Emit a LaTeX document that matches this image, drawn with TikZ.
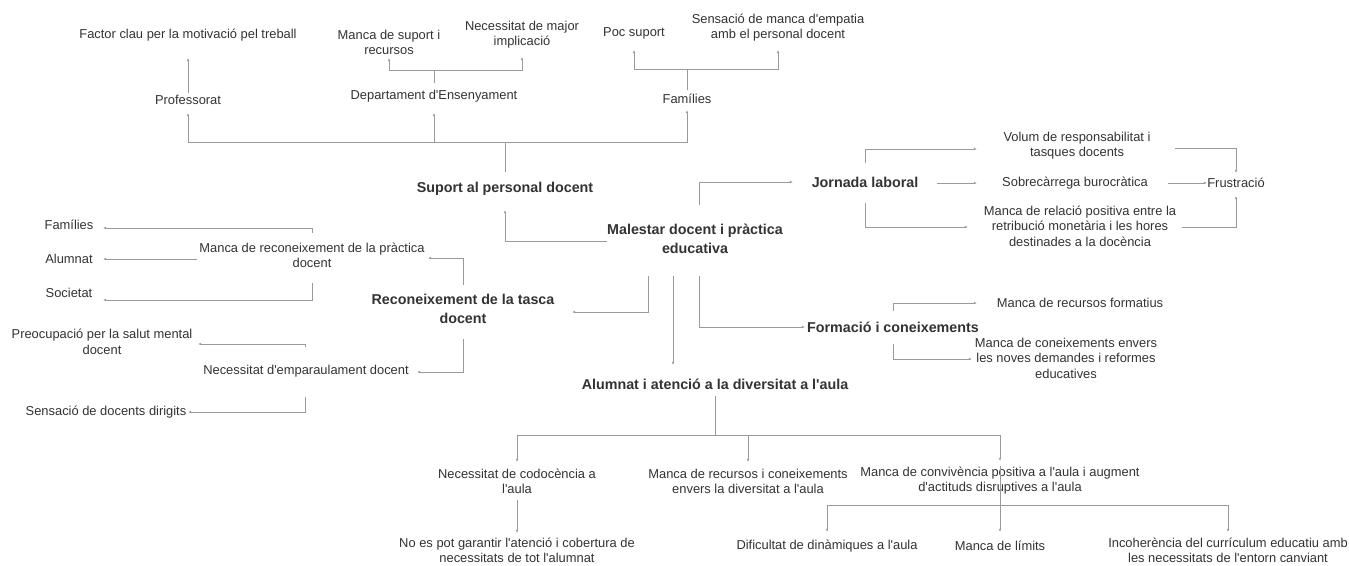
\documentclass[tikz,border=0pt]{standalone}
\usepackage{fontspec}
\setmainfont{Liberation Sans}[Ligatures=TeXOff]
\usetikzlibrary{arrows.meta}
\definecolor{txt}{HTML}{333333}
\definecolor{lnc}{HTML}{9A9A9A}
\begin{document}
\begin{tikzpicture}[x=1pt,y=-1pt,
  lbl/.style={text=txt,font=\fontsize{12.9}{15.5}\selectfont,align=center,inner sep=0pt},
  hd/.style={text=txt,font=\bfseries\fontsize{14.3}{19}\selectfont,align=center,inner sep=0pt},
  conn/.style={draw=lnc,line width=0.7pt},
  arr/.style={conn,-{Latex[length=3.2pt,width=2.6pt]}}]
\fill[white] (0,0) rectangle (1349,565);
\useasboundingbox (0,0) rectangle (1349,565);
% ---------- top ----------
\node[lbl] (factor) at (188,35) {Factor clau per la motivació pel treball};
\node[lbl] (prof) at (188,100) {Professorat};
\node[lbl] (mancasup) at (389,42.5) {Manca de suport i\\recursos};
\node[lbl] (nmaj) at (522,34.5) {Necessitat de major\\implicació};
\node[lbl] (dep) at (434,96) {Departament d'Ensenyament};
\node[lbl] (poc) at (634,33) {Poc suport};
\node[lbl] (sens) at (778,27.5) {Sensació de manca d'empatia\\amb el personal docent};
\node[lbl] (fam1) at (687,99) {Famílies};
\node[hd] (suport) at (505,189) {Suport al personal docent};
\node[hd] (main) at (695,238.5) {Malestar docent i pràctica\\educativa};
% ---------- right ----------
\node[hd] (jorn) at (865,182) {Jornada laboral};
\node[lbl] (volum) at (1077,145.5) {Volum de responsabilitat i\\tasques docents};
\node[lbl] (sobre) at (1075,183) {Sobrecàrrega burocràtica};
\node[lbl] (relacio) at (1080,226) {Manca de relació positiva entre la\\retribució monetària i les hores\\destinades a la docència};
\node[lbl] (frus) at (1236,183) {Frustració};
\node[hd] (formacio) at (893,327) {Formació i coneixements};
\node[lbl] (mrf) at (1080,303) {Manca de recursos formatius};
\node[lbl] (mce) at (1066,358) {Manca de coneixements envers\\les noves demandes i reformes\\educatives};
% ---------- left ----------
\node[lbl] (famL) at (69,225) {Famílies};
\node[lbl] (alum) at (69,259) {Alumnat};
\node[lbl] (soc) at (69,293) {Societat};
\node[lbl] (mrec) at (312,255.5) {Manca de reconeixement de la pràctica\\docent};
\node[hd] (recon) at (463,308.5) {Reconeixement de la tasca\\docent};
\node[lbl] (preo) at (102,342) {Preocupació per la salut mental\\docent};
\node[lbl] (nemp) at (306,371) {Necessitat d'emparaulament docent};
\node[lbl] (sdir) at (106,412) {Sensació de docents dirigits};
% ---------- bottom ----------
\node[hd] (alat) at (715,384) {Alumnat i atenció a la diversitat a l'aula};
\node[lbl] (codo) at (517,481.5) {Necessitat de codocència a\\l'aula};
\node[lbl] (mrc) at (748,481.5) {Manca de recursos i coneixements\\envers la diversitat a l'aula};
\node[lbl] (conv) at (1000,480.5) {Manca de convivència positiva a l'aula i augment\\d'actituds disruptives a l'aula};
\node[lbl,font=\fontsize{12.9}{15}\selectfont] (nogar) at (517,550) {No es pot garantir l'atenció i cobertura de\\necessitats de tot l'alumnat};
\node[lbl] (dif) at (827,546) {Dificultat de dinàmiques a l'aula};
\node[lbl] (lim) at (1000,546) {Manca de límits};
\node[lbl,font=\fontsize{12.9}{15}\selectfont] (inco) at (1228,550) {Incoherència del currículum educatiu amb\\les necessitats de l'entorn canviant};
% ---------- junctions ----------
\coordinate (tbus) at (505,142);
\coordinate (dbr) at (434,70);
\coordinate (fbr) at (687,69);
\coordinate (abus) at (715,435);
\coordinate (cbus) at (1000,505);
% ---------- connectors: top ----------
\draw[arr] (prof |- 0,93) -- (factor |- 0,58);
\draw[conn] (suport |- 0,172) -- (tbus);
\draw[arr] (tbus) -| (prof |- 0,113);
\draw[arr] (tbus) -| (dep |- 0,113);
\draw[arr] (tbus) -| (fam1 |- 0,110);
\draw[conn] (dep |- 0,83) -- (dbr);
\draw[arr] (dbr) -| (mancasup |- 0,58);
\draw[arr] (dbr) -| (nmaj |- 0,57);
\draw[conn] (fam1 |- 0,90) -- (fbr);
\draw[arr] (fbr) -| (poc |- 0,50);
\draw[arr] (fbr) -| (sens |- 0,50);
% ---------- main ----------
\draw[arr] (main.west |- 0,241) -| (suport |- 0,210);
\draw[arr] (699,205) |- (793,182);
\draw[arr] (648,276) |- (572,312);
\draw[arr] (673,276) -- (673,365);
\draw[arr] (699,276) |- (805,327);
% ---------- jornada ----------
\draw[arr] (jorn |- 0,163) |- (977,149);
\draw[arr] (937,183) -- (977,183);
\draw[arr] (jorn |- 0,203) |- (968,227);
\draw[arr] (1175,148) -| (frus |- 0,173);
\draw[arr] (1168,183) -- (1207,183);
\draw[arr] (1182,227) -| (frus |- 0,196);
% ---------- formacio ----------
\draw[arr] (formacio |- 0,311) |- (977,303);
\draw[arr] (formacio |- 0,344) |- (972,359);
% ---------- left ----------
\draw[arr] (recon |- 0,285) |- (428,258);
\draw[arr] (recon |- 0,339) |- (417,372);
\draw[arr] (mrec |- 0,233) |- (103,228);
\draw[arr] (197,259) -- (103,259);
\draw[arr] (mrec |- 0,283) |- (103,300);
\draw[arr] (305,347) |- (198,344);
\draw[arr] (305,397) |- (188,412);
% ---------- bottom ----------
\draw[conn] (alat |- 0,396) -- (abus);
\draw[arr] (abus) -| (codo |- 0,462);
\draw[arr] (abus) -| (mrc |- 0,462);
\draw[arr] (abus) -| (conv |- 0,461);
\draw[arr] (codo |- 0,500) -- (nogar |- 0,533);
\draw[conn] (conv |- 0,466) -- (cbus);
\draw[arr] (cbus) -| (dif |- 0,532);
\draw[arr] (cbus) -- (lim |- 0,532);
\draw[arr] (cbus) -| (inco |- 0,532);
\end{tikzpicture}
\end{document}
